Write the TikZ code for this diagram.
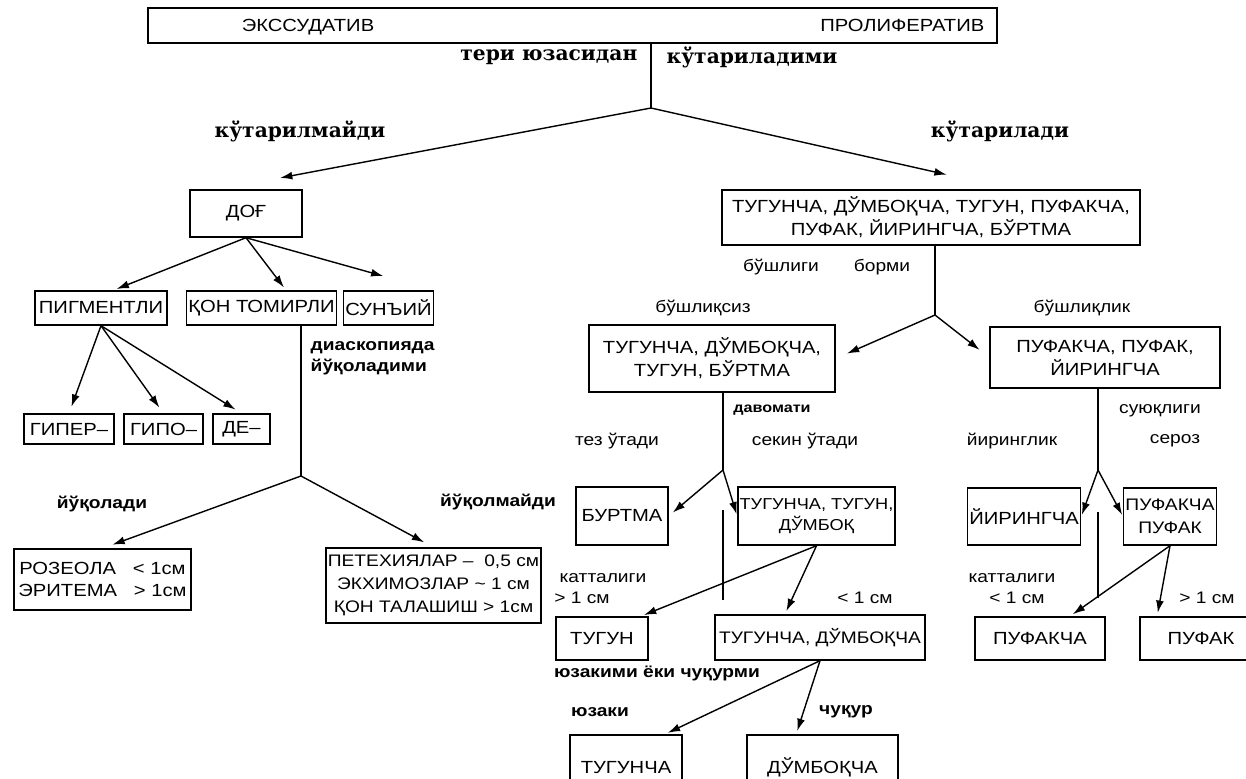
\documentclass[tikz,border=0pt]{standalone}
\usepackage{fontspec}
\setmainfont{Liberation Sans}[FakeStretch=1.15]
\newfontfamily\lblfont{DejaVu Serif}
\usetikzlibrary{arrows.meta}

\begin{document}
\begin{tikzpicture}[x=0.02cm, y=-0.02cm, line width=0.8pt,
  box/.style={draw, rectangle, inner sep=1pt, align=center, font=\fontsize{10}{13}\selectfont},
  lbl/.style={font=\fontsize{9.5}{11}\selectfont, inner sep=0pt},
  mlbl/.style={font=\bfseries\fontsize{9.5}{12}\selectfont, inner sep=0pt},
  blbl/.style={font=\lblfont\bfseries\fontsize{11.5}{12}\selectfont, inner sep=0pt},
  arr/.style={-{Latex[length=7pt,width=4.5pt]}}]
\useasboundingbox (0,0) rectangle (1246,778);

% top
\node (top) at (572.5,25.5) [box, minimum width=16.98cm, minimum height=0.7cm] {};
\node (exs) at (308,31) [lbl, anchor=base, font=\fontsize{10}{12}\selectfont] {ЭКССУДАТИВ};
\node (pro) at (985,31) [lbl, anchor=base east, font=\fontsize{10}{12}\selectfont] {ПРОЛИФЕРАТИВ};
\coordinate (b0) at (651,108);
\draw (top.south -| b0) -- (b0);
\node (q0) at (638,57) [blbl, anchor=east] {тери юзасидан};
\node (q0b) at (666,57) [blbl, anchor=west] {кўтариладими};
\node (no) at (300,131) [blbl] {кўтарилмайди};
\node (yes) at (1000,131) [blbl] {кўтарилади};

% left side
\node (dog) at (246,213.5) [box, minimum width=2.24cm, minimum height=0.94cm] {ДОҒ};
\draw[arr, shorten >=35pt] (b0) -- ([xshift=-15pt]dog.north);

\node (pig) at (101,308) [box, minimum width=2.64cm, minimum height=0.68cm] {ПИГМЕНТЛИ};
\node (qon) at (261.5,308) [box, minimum width=2.86cm, minimum height=0.68cm] {ҚОН ТОМИРЛИ};
\node (sun) at (388.5,308) [box, minimum width=1.78cm, minimum height=0.68cm] {СУНЪИЙ};
\draw[arr, shorten >=2pt] (dog.south) -- ([xshift=7pt]pig.north);
\draw[arr, shorten >=2pt] (dog.south) -- ([xshift=14pt]qon.north);
\draw[arr, shorten >=30pt] (dog.south) -- (sun.north east);

\node (giper) at (69,429) [box, minimum width=1.8cm, minimum height=0.6cm] {ГИПЕР–};
\node (gipo) at (163.5,429) [box, minimum width=1.58cm, minimum height=0.6cm] {ГИПО–};
\node (de) at (241.5,429) [box, minimum width=1.14cm, minimum height=0.6cm] {ДЕ–};
\draw[arr, shorten >=4pt] (pig.south) -- (giper.north);
\draw[arr, shorten >=4pt] (pig.south) -- (gipo.north);
\draw[arr, shorten >=4pt] (pig.south) -- (de.north);

\coordinate (b2) at (301,476);
\draw (qon.south -| b2) -- (b2);
\node (dia) at (310,358) [mlbl, anchor=west, align=left] {диаскопияда\\йўқоладими};
\node (yuq) at (102,504) [mlbl] {йўқолади};
\node (yuqm) at (498,502) [mlbl] {йўқолмайди};

\node (roz) at (102.5,579.5) [box, minimum width=3.54cm, minimum height=1.22cm] {РОЗЕОЛА \ \ < 1см\\ЭРИТЕМА \ \ > 1см};
\node (pet) at (433.5,585.5) [box, minimum width=4.3cm, minimum height=1.5cm, font=\fontsize{9.5}{13}\selectfont] {ПЕТЕХИЯЛАР – \ 0,5 см\\ЭКХИМОЗЛАР \textasciitilde{} 1 см\\ҚОН ТАЛАШИШ > 1см};
\draw[arr, shorten >=6pt] (b2) -- (roz.north);
\draw[arr, shorten >=6pt] (b2) -- (pet.north);

% right side
\node (big) at (931,217.5) [box, minimum width=8.36cm, minimum height=1.1cm] {ТУГУНЧА, ДЎМБОҚЧА, ТУГУН, ПУФАКЧА,\\ПУФАК, ЙИРИНГЧА, БЎРТМА};
\draw[arr, shorten >=38pt] (b0) -- ([xshift=46pt]big.north);

\coordinate (b3) at (935,315);
\draw (big.south -| b3) -- (b3);
\node (bo) at (781,267) [lbl] {бўшлиги};
\node (bo2) at (882,267) [lbl] {борми};
\node (bsiz) at (703,308) [lbl] {бўшлиқсиз};
\node (blik) at (1082,308) [lbl] {бўшлиқлик};

\node (lft) at (712,358.5) [box, minimum width=4.92cm, minimum height=1.34cm] {ТУГУНЧА, ДЎМБОҚЧА,\\ТУГУН, БЎРТМА};
\node (rgt) at (1105,357.5) [box, minimum width=4.6cm, minimum height=1.22cm] {ПУФАКЧА, ПУФАК,\\ЙИРИНГЧА};
\draw[arr, shorten >=7pt] (b3) -- (lft.east);
\draw[arr, shorten >=7pt] (b3) -- (rgt.west);

% tugun branch
\coordinate (b4) at (723,470);
\draw (lft.south -| b4) -- (b4);
\node (dav) at (772,410) [mlbl, font=\bfseries\fontsize{8}{10}\selectfont] {давомати};
\node (tez) at (617,441) [lbl] {тез ўтади};
\node (sek) at (805,441) [lbl] {секин ўтади};

\node (burt) at (622,516) [box, minimum width=1.84cm, minimum height=1.16cm] {БУРТМА};
\node (tt) at (816.5,516) [box, minimum width=2.94cm, minimum height=1.16cm, font=\fontsize{9}{12}\selectfont] {ТУГУНЧА, ТУГУН,\\ДЎМБОҚ};
\draw[arr, shorten >=3pt] (b4) -- (burt.east);
\draw[arr, shorten >=1pt] (b4) -- (tt.west);
\coordinate (g1) at (723,510);
\coordinate (g2) at (723,600);
\draw (g1) -- (g2);

\node (kat1) at (603,578) [lbl] {катталиги};
\node (gt1) at (582,598) [lbl] {> 1 см};
\node (lt1) at (865,598) [lbl] {< 1 см};

\node (tugun) at (602,638.5) [box, minimum width=1.84cm, minimum height=0.86cm] {ТУГУН};
\node (td) at (820,637.5) [box, minimum width=4.2cm, minimum height=0.9cm, font=\fontsize{9.5}{12}\selectfont] {ТУГУНЧА, ДЎМБОҚЧА};
\draw[arr, shorten >=2pt] (tt.south) -- ([xshift=22pt]tugun.north);
\draw[arr, shorten >=2pt] (tt.south) -- ([xshift=-20pt]td.north);

\node (yuz) at (657,673) [mlbl] {юзакими ёки чуқурми};
\node (yz) at (600,712) [mlbl] {юзаки};
\node (ch) at (846,712) [mlbl] {чуқур};

\node (tg) at (626,767.5) [box, minimum width=2.24cm, minimum height=1.3cm] {ТУГУНЧА};
\node (dm) at (822.5,767.5) [box, minimum width=3.02cm, minimum height=1.3cm] {ДЎМБОҚЧА};
\draw[arr, shorten >=2pt] (td.south) -- ([xshift=22pt]tg.north);
\draw[arr, shorten >=2pt] (td.south) -- ([xshift=-15pt]dm.north);

% pufak branch
\coordinate (b5) at (1098,470);
\draw (rgt.south -| b5) -- (b5);
\node (suy) at (1160,411) [lbl] {суюқлиги};
\node (yrl) at (1012,441) [lbl] {йиринглик};
\node (ser) at (1175,441) [lbl] {сероз};

\node (yir) at (1024,516.5) [box, minimum width=2.16cm, minimum height=1.14cm] {ЙИРИНГЧА};
\node (puf2) at (1170,516.5) [box, minimum width=1.8cm, minimum height=1.14cm, font=\fontsize{9.5}{13}\selectfont] {ПУФАКЧА\\ПУФАК};
\draw[arr, shorten >=1pt] (b5) -- (yir.east);
\draw[arr, shorten >=1pt] (b5) -- (puf2.west);
\coordinate (g3) at (1098,512);
\coordinate (g4) at (1098,598);
\draw (g3) -- (g4);

\node (kat2) at (1012,578) [lbl] {катталиги};
\node (lt2) at (1017,598) [lbl] {< 1 см};
\node (gt2) at (1207,598) [lbl] {> 1 см};

\node (pk) at (1040,638.5) [box, minimum width=2.6cm, minimum height=0.86cm] {ПУФАКЧА};
\node (pf) at (1201,638.5) [box, minimum width=2.44cm, minimum height=0.86cm] {ПУФАК};
\draw[arr, shorten >=2pt] (puf2.south) -- ([xshift=17pt]pk.north);
\draw[arr, shorten >=2pt] (puf2.south) -- ([xshift=-25pt]pf.north);

\end{tikzpicture}
\end{document}
